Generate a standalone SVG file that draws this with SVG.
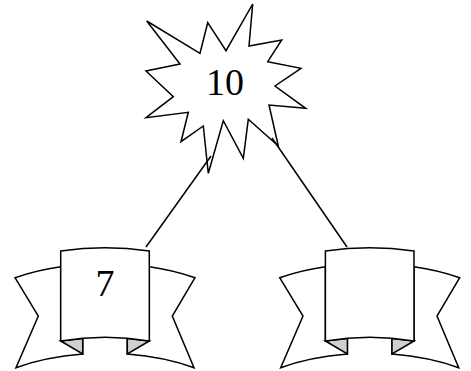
<svg xmlns="http://www.w3.org/2000/svg" width="471" height="371" viewBox="0 0 471 371">
<style>
.s{fill:#fff;stroke:#000;stroke-width:1.5;stroke-linejoin:miter}
.fold{fill:#d0d0d0;stroke:#000;stroke-width:1.5;stroke-linejoin:miter}
.c{fill:none;stroke:#000;stroke-width:1.5}
.t{font-family:"Liberation Serif","Times New Roman",serif;font-size:38px;fill:#000;text-anchor:middle}
</style>
<defs>
<g id="ribbon">
<path class="s" d="M60.7,266.7 Q37,270 15,277.7 L38.3,316 L16,367.7 Q45,357 82.7,354 L82.7,338.5 L60.7,341 Z"/>
<path class="s" d="M149.3,266.7 Q173,270 195,277.7 L172.3,316 L194,367.7 Q165,357 127.3,354 L127.3,338.5 L149.3,341 Z"/>
<path class="fold" d="M60.7,341 L82.7,354 L82.7,338.5 Z"/>
<path class="fold" d="M149.3,341 L127.3,354 L127.3,338.5 Z"/>
<path class="s" d="M60.7,251 Q105,244.4 149.3,251 L149.3,341 Q105,333.6 60.7,341 Z"/>
</g>
</defs>
<g id="node-10">
<path class="s" d="M252.7,4 L249,46 L281.7,40 L267.7,61.7 L301,68.3 L275,86 L305.7,108.3 L269,105 L278.3,146 L248.3,119.3 L243.3,158.3 L223.3,120.7 L208.3,173.3 L203.3,126 L181,141.7 L188.3,112.3 L146,117.7 L173.3,96.7 L146,71 L180,64 L146.7,21 L200,53.3 L207.7,22.7 L226,50.7 Z"/>
<text class="t" x="225" y="95">10</text>
</g>
<g id="node-7">
<use href="#ribbon"/>
<text class="t" x="105" y="296">7</text>
</g>
<g id="node-empty">
<use href="#ribbon" transform="translate(264.7,0)"/>
</g>
<g id="connectors">
<line class="c" x1="146" y1="247" x2="211" y2="156"/>
<line class="c" x1="347" y1="247" x2="272" y2="138"/>
</g>
</svg>
